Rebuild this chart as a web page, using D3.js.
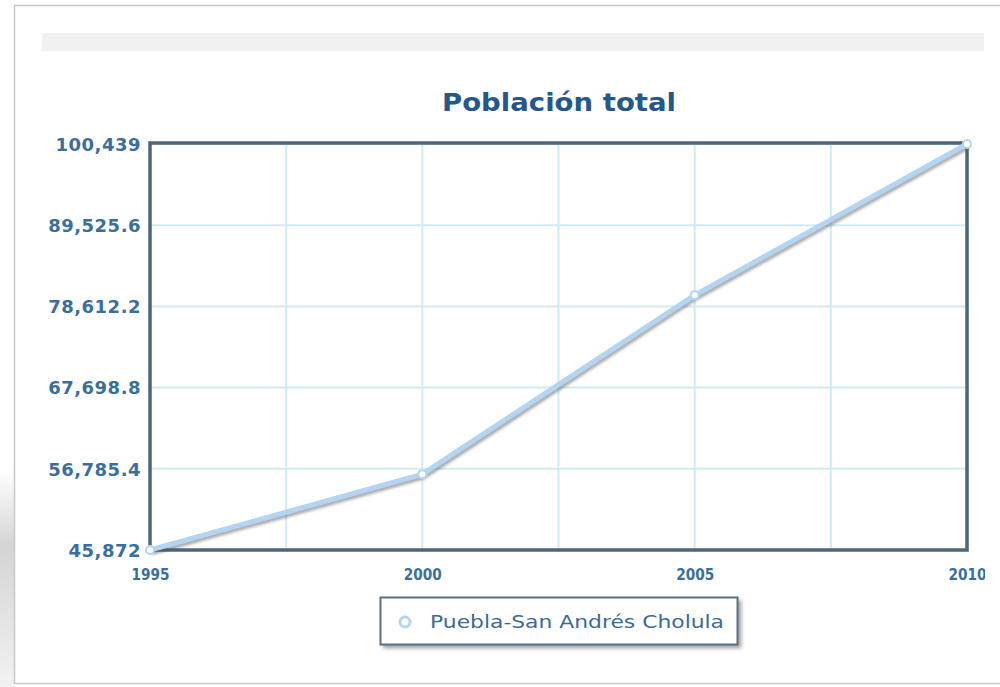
<!DOCTYPE html>
<html><head><meta charset="utf-8">
<script src="https://cdn.jsdelivr.net/npm/d3@7"></script>
<style>
html,body{margin:0;padding:0;background:#fff;}
svg{display:block;}
</style></head>
<body>
<svg id="c" width="1000" height="687"></svg>
<script>
const years = [1995, 2000, 2005, 2010];
const population = [45872, 56066, 80118, 100439];
const yTickLabels = ["45,872", "56,785.4", "67,698.8", "78,612.2", "89,525.6", "100,439"];
const xTickLabels = ["1995", "2000", "2005", "2010"];
const seriesName = "Puebla-San Andrés Cholula";
const titleText = "Población total";

const svg = d3.select("#c");
const defs = svg.append("defs");
const shadowGrad = defs.append("linearGradient").attr("id","sg").attr("x1","0").attr("x2","0").attr("y1","0").attr("y2","1");
shadowGrad.append("stop").attr("offset","0").attr("stop-color","#fff");
shadowGrad.append("stop").attr("offset","0.35").attr("stop-color","#d4d4d4");
shadowGrad.append("stop").attr("offset","1").attr("stop-color","#f2f2f2");
const f = defs.append("filter").attr("id","blur").attr("x","-20%").attr("y","-20%").attr("width","140%").attr("height","140%");
f.append("feGaussianBlur").attr("stdDeviation",1.6);
const f2 = defs.append("filter").attr("id","lshadow").attr("x","-10%").attr("y","-30%").attr("width","120%").attr("height","160%");
f2.append("feGaussianBlur").attr("stdDeviation",2);
defs.append("clipPath").attr("id","clipR").append("rect").attr("x",0).attr("y",0).attr("width",985).attr("height",687);

// page frame and shadow
svg.append("rect").attr("x",0).attr("y",470).attr("width",14).attr("height",217).attr("fill","url(#sg)");
svg.append("rect").attr("x",14.5).attr("y",5.5).attr("width",1000).attr("height",678).attr("fill","#fff").attr("stroke","#c8c8c8").attr("stroke-width",1.5);
svg.append("rect").attr("x",42).attr("y",33).attr("width",942).attr("height",18).attr("fill","#f0f0f0");

// title
svg.append("text").attr("x",559).attr("y",111).attr("text-anchor","middle")
  .attr("font-family","Verdana, 'DejaVu Sans', sans-serif").attr("font-weight","bold")
  .attr("font-size",24).attr("fill","#24588a").attr("textLength",234).attr("lengthAdjust","spacingAndGlyphs").text(titleText);

const L=150, R=967, T=144, B=550;
const x = d3.scaleLinear().domain([1995,2010]).range([L,R]);
const y = d3.scaleLinear().domain([45872,100439]).range([B,T]);

// grid
const gridX = d3.range(1995, 2010.01, 2.5);
const gridY = d3.range(0,6).map(i => 45872 + i*(100439-45872)/5);
svg.append("g").selectAll("line").data(gridX).join("line")
  .attr("x1",d=>x(d)).attr("x2",d=>x(d)).attr("y1",T).attr("y2",B)
  .attr("stroke","#d0ecf0").attr("stroke-width",2);
svg.append("g").selectAll("line").data(gridY).join("line")
  .attr("x1",L).attr("x2",R).attr("y1",d=>y(d)).attr("y2",d=>y(d))
  .attr("stroke","#d0ecf0").attr("stroke-width",2);

// frame
svg.append("rect").attr("x",L).attr("y",T-1).attr("width",R-L).attr("height",B-T+1)
  .attr("fill","none").attr("stroke","#4d6678").attr("stroke-width",3.5);

// y axis labels
const yAxis = d3.axisLeft(y).tickValues(gridY).tickFormat((d,i)=>yTickLabels[i]).tickSize(0).tickPadding(8);
const gy = svg.append("g").attr("transform",`translate(${L-1},0)`).call(yAxis);
gy.select(".domain").remove();
gy.selectAll("text").attr("font-family","Verdana, 'DejaVu Sans', sans-serif").attr("font-size",18)
  .attr("font-weight","bold").attr("fill","#3a6e9c").attr("letter-spacing",0.5).attr("dy","0.35em");

// x axis labels
const xAxis = d3.axisBottom(x).tickValues(years).tickFormat((d,i)=>xTickLabels[i]).tickSize(0).tickPadding(19);
const gx = svg.append("g").attr("transform",`translate(0,${B})`).attr("clip-path","url(#clipR)").call(xAxis);
gx.select(".domain").remove();
gx.selectAll("text").attr("font-family","Verdana, 'DejaVu Sans', sans-serif").attr("font-size",15)
  .attr("fill","#3a6e9c").attr("font-weight","600").attr("textLength",38).attr("lengthAdjust","spacingAndGlyphs");

// line
const data = years.map((yr,i)=>({yr, v:population[i]}));
const line = d3.line().x(d=>x(d.yr)).y(d=>y(d.v));
svg.append("path").datum(data).attr("d",line).attr("transform","translate(1.5,3)")
  .attr("fill","none").attr("stroke","#555").attr("stroke-opacity",0.55).attr("stroke-width",4).attr("filter","url(#blur)");
svg.append("path").datum(data).attr("d",line)
  .attr("fill","none").attr("stroke","#b3d5f2").attr("stroke-width",5);
svg.append("g").selectAll("circle").data(data).join("circle")
  .attr("cx",d=>x(d.yr)).attr("cy",d=>y(d.v)).attr("r",4)
  .attr("fill","#fff").attr("stroke","#b3d5f2").attr("stroke-width",2);

// legend
const lg = svg.append("g");
lg.append("rect").attr("x",383).attr("y",600).attr("width",358).attr("height",48).attr("fill","#999").attr("filter","url(#lshadow)");
lg.append("rect").attr("x",380.5).attr("y",597.5).attr("width",357).attr("height",47).attr("fill","#fff").attr("stroke","#5a7080").attr("stroke-width",2);
lg.append("circle").attr("cx",405).attr("cy",622).attr("r",5).attr("fill","#fff").attr("stroke","#b3d5f2").attr("stroke-width",3);
lg.append("text").attr("x",430).attr("y",628).attr("font-family","Verdana, 'DejaVu Sans', sans-serif")
  .attr("font-size",17).attr("fill","#3a6a98").attr("textLength",294).attr("lengthAdjust","spacingAndGlyphs").text(seriesName);
</script>
</body></html>
